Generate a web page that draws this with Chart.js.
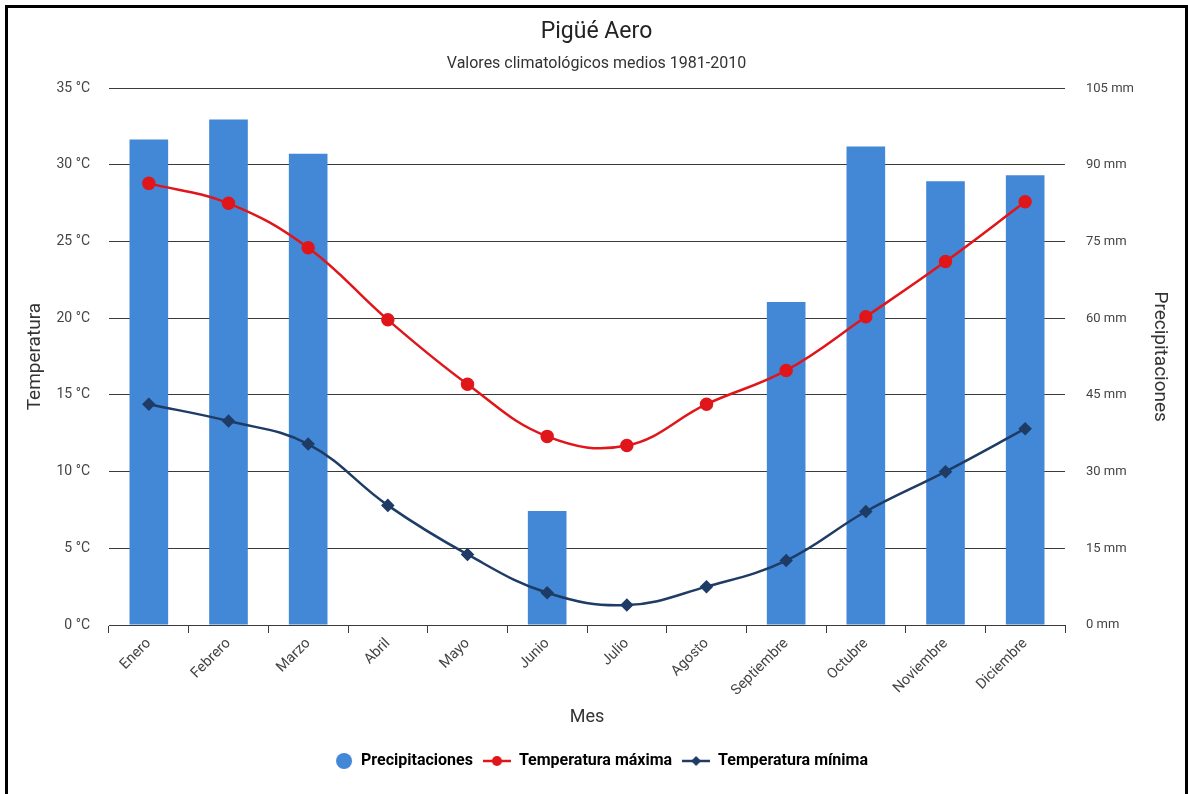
<!DOCTYPE html>
<html>
<head>
<meta charset="utf-8">
<script src="https://cdn.jsdelivr.net/npm/chart.js@4.4.1/dist/chart.umd.min.js"></script>
<style>
  html, body { margin: 0; padding: 0; background: #fff; overflow: hidden; }
  #marco { position: absolute; left: 5px; top: 5px; width: 1177px; height: 820px; border: 3px solid #000; border-bottom: none; }
  #caja { position: relative; width: 1177px; height: 786px; }
</style>
</head>
<body>
<div id="marco"><div id="caja"><canvas id="grafico"></canvas></div></div>
<script>
// datos
const meses = ['Enero', 'Febrero', 'Marzo', 'Abril', 'Mayo', 'Junio', 'Julio', 'Agosto', 'Septiembre', 'Octubre', 'Noviembre', 'Diciembre'];
const precipitaciones = [95.0, 98.9, 92.2, null, null, 22.3, null, null, 63.2, 93.6, 86.8, 88.0];
const tempMaxima = [28.8, 27.5, 24.6, 19.9, 15.7, 12.3, 11.7, 14.4, 16.6, 20.1, 23.7, 27.6];
const tempMinima = [14.4, 13.3, 11.8, 7.8, 4.6, 2.1, 1.3, 2.5, 4.2, 7.4, 10.0, 12.8];
const ticksTemperatura = [0, 5, 10, 15, 20, 25, 30, 35];
const ticksPrecipitacion = [0, 15, 30, 45, 60, 75, 90, 105];

const azul = '#4387d7';
const rojo = '#e0161b';
const marino = '#1e3c66';
const lineaGrilla = '#3a3a3a';

Chart.defaults.font.family = 'Roboto';
Chart.defaults.color = '#444';

// iconos de la leyenda (linea con marcador)
function icono(tipo, color) {
    const c = document.createElement('canvas');
    c.width = 28;
    c.height = 18;
    const g = c.getContext('2d');
    g.fillStyle = color;
    g.strokeStyle = color;
    if (tipo === 'circulo') {
        g.beginPath();
        g.arc(19, 9, 8, 0, Math.PI * 2);
        g.fill();
        return c;
    }
    g.lineWidth = 2.5;
    g.beginPath();
    g.moveTo(0, 9);
    g.lineTo(28, 9);
    g.stroke();
    g.beginPath();
    if (tipo === 'punto') {
        g.arc(14, 9, 5, 0, Math.PI * 2);
    } else {
        g.moveTo(14, 4);
        g.lineTo(19, 9);
        g.lineTo(14, 14);
        g.lineTo(9, 9);
        g.closePath();
    }
    g.fill();
    return c;
}
const iconos = [icono('circulo', azul), icono('punto', rojo), icono('rombo', marino)];
const nombres = ['Precipitaciones', 'Temperatura máxima', 'Temperatura mínima'];

const ctx = document.getElementById('grafico').getContext('2d');
new Chart(ctx, {
    data: {
        labels: meses,
        datasets: [
            {
                type: 'line',
                label: 'Temperatura mínima',
                data: tempMinima,
                yAxisID: 'yTemp',
                borderColor: marino,
                backgroundColor: marino,
                borderWidth: 2.5,
                pointStyle: 'rectRot',
                pointRadius: 5,
                tension: 0.4,
                order: 1
            },
            {
                type: 'line',
                label: 'Temperatura máxima',
                data: tempMaxima,
                yAxisID: 'yTemp',
                borderColor: rojo,
                backgroundColor: rojo,
                borderWidth: 2.5,
                pointStyle: 'circle',
                pointRadius: 5.5,
                tension: 0.4,
                order: 2
            },
            {
                type: 'bar',
                label: 'Precipitaciones',
                data: precipitaciones,
                yAxisID: 'yPrec',
                backgroundColor: azul,
                categoryPercentage: 0.5,
                barPercentage: 0.97,
                order: 3
            }
        ]
    },
    options: {
        responsive: true,
        maintainAspectRatio: false,
        animation: false,
        layout: { padding: { left: 0, right: 0, top: 0, bottom: 15 } },
        plugins: {
            title: {
                display: true,
                text: 'Pigüé Aero',
                color: '#222',
                font: { size: 23, weight: 'normal' },
                padding: { top: 10, bottom: 5 }
            },
            subtitle: {
                display: true,
                text: 'Valores climatológicos medios 1981-2010',
                color: '#333',
                font: { size: 16 },
                padding: { top: 4, bottom: 14.5 }
            },
            legend: {
                position: 'bottom',
                labels: {
                    usePointStyle: true,
                    pointStyleWidth: 28,
                    padding: 10,
                    color: '#222',
                    font: { size: 16, weight: 'bold' },
                    generateLabels: () => nombres.map((n, i) => ({
                        text: n,
                        pointStyle: iconos[i],
                        fillStyle: azul,
                        strokeStyle: azul,
                        lineWidth: 0,
                        hidden: false,
                        datasetIndex: 2 - i
                    }))
                }
            },
            tooltip: { enabled: false }
        },
        scales: {
            x: {
                offset: true,
                grid: {
                    offset: true,
                    drawOnChartArea: false,
                    color: lineaGrilla,
                    tickLength: 8
                },
                border: { color: lineaGrilla },
                ticks: {
                    maxRotation: 45,
                    minRotation: 45,
                    padding: 2,
                    color: '#444',
                    font: { size: 14.5 }
                },
                title: {
                    display: true,
                    text: 'Mes',
                    color: '#333',
                    font: { size: 18 },
                    padding: { top: 0, bottom: 15 }
                },
                afterFit: (s) => { s.height = 118; }
            },
            yTemp: {
                position: 'left',
                min: 0,
                max: 35,
                afterBuildTicks: (s) => { s.ticks = ticksTemperatura.map(v => ({ value: v })); },
                grid: { color: lineaGrilla, drawTicks: false },
                border: { display: false },
                ticks: {
                    padding: 19,
                    color: '#444',
                    font: { size: 14 },
                    callback: (v) => v + ' °C'
                },
                title: {
                    display: true,
                    text: 'Temperatura',
                    color: '#333',
                    font: { size: 19 },
                    padding: { top: 16 }
                },
                afterFit: (s) => { s.width = 101; }
            },
            yPrec: {
                position: 'right',
                min: 0,
                max: 105,
                afterBuildTicks: (s) => { s.ticks = ticksPrecipitacion.map(v => ({ value: v })); },
                grid: { drawOnChartArea: false, drawTicks: false },
                border: { display: false },
                ticks: {
                    padding: 21,
                    color: '#444',
                    font: { size: 13 },
                    callback: (v) => v + ' mm'
                },
                title: {
                    display: true,
                    text: 'Precipitaciones',
                    color: '#333',
                    font: { size: 19 },
                    padding: { top: 14 }
                },
                afterFit: (s) => { s.width = 120; }
            }
        }
    }
});
</script>
</body>
</html>
